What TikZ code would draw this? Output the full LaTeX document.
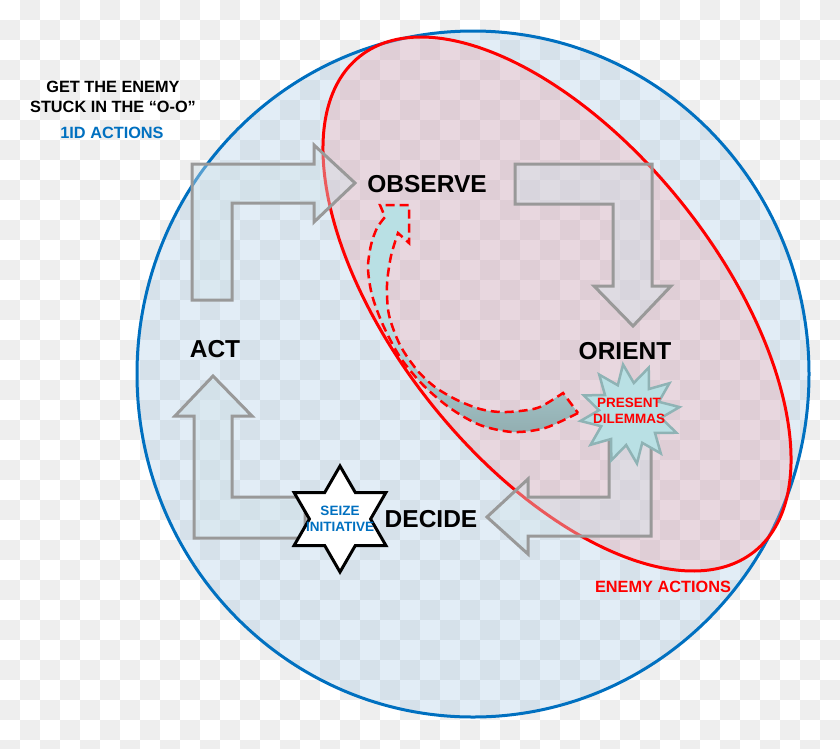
\documentclass[tikz,border=0pt]{standalone}
\usepackage{fontspec}
\setmainfont{Liberation Sans}
\usetikzlibrary{shapes.geometric}

\definecolor{oneidblue}{RGB}{0,112,192}
\definecolor{circlefill}{RGB}{143,187,223}
\definecolor{enemyfill}{RGB}{247,165,170}
\definecolor{arrowgray}{RGB}{153,153,153}
\definecolor{arrowfill}{RGB}{207,225,232}
\definecolor{checkgray}{RGB}{238,238,238}
\definecolor{teallight}{RGB}{185,224,228}
\definecolor{tealdark}{RGB}{146,174,177}
\definecolor{burstline}{RGB}{143,179,181}

\begin{document}
\begin{tikzpicture}[x=1pt,y=-1pt,
    blockarrow/.style={draw=arrowgray, line width=3pt, fill=arrowfill, fill opacity=0.4},
    phase/.style={font=\fontsize{24.5}{26}\selectfont\bfseries},
    note/.style={font=\fontsize{16.3}{20}\selectfont\bfseries, align=center, inner sep=0pt},
    small/.style={font=\fontsize{13.5}{15.5}\selectfont\bfseries, align=center, inner sep=0pt}]

    \useasboundingbox (0,0) rectangle (840,748);
    % checkered backdrop
    \begin{scope}
        \clip (0,0) rectangle (840,748);
        \fill[white] (0,0) rectangle (840,748);
        \foreach \i in {0,2,...,40}
            \foreach \j in {1,3,...,37}
                \fill[checkgray] (20*\i,20*\j) rectangle ++(20,20);
        \foreach \i in {1,3,...,41}
            \foreach \j in {0,2,...,36}
                \fill[checkgray] (20*\i,20*\j) rectangle ++(20,20);
    \end{scope}

    % own and enemy areas
    \fill[circlefill, opacity=0.25] (473,374) ellipse [x radius=336, y radius=343];
    \draw[oneidblue, line width=3pt] (473,374) ellipse [x radius=336, y radius=343];
    \fill[enemyfill, opacity=0.3, rotate around={-51.4:(557,304)}] (557,304) ellipse [x radius=316.6, y radius=160.6];
    \draw[red, line width=3pt, rotate around={-51.4:(557,304)}] (557,304) ellipse [x radius=316.6, y radius=160.6];

    % loop arrows
    \draw[blockarrow] (192,300) -- (192,164) -- (314,164) -- (314,145) -- (355,183) -- (314,222) -- (314,203) -- (232,203) -- (232,300) -- cycle;
    \draw[blockarrow] (515,164) -- (652,164) -- (652,286) -- (671,286) -- (633,326) -- (594,286) -- (613,286) -- (613,204) -- (515,204) -- cycle;
    \draw[blockarrow] (651,425) -- (651,536) -- (528,536) -- (528,554) -- (487,517) -- (528,479) -- (528,497) -- (609,497) -- (609,425) -- cycle;
    \draw[blockarrow] (213,376) -- (252,416) -- (232,416) -- (232,497) -- (305,497) -- (305,538) -- (194,538) -- (194,416) -- (175,416) -- cycle;

    % enemy pushed back to observe
    \path[draw=red, line width=2.5pt, dash pattern=on 9pt off 5pt,
          top color=teallight, bottom color=tealdark, middle color=teallight]
        (578,413)
        -- plot[smooth] coordinates {(578,413) (545,428) (513,432) (480,425) (450,408) (423,385) (400,357) (383,325) (372,295) (368,268) (371,245) (377,228) (385,217)}
        -- (380,205) -- (409,205) -- (409,243) -- (398,233)
        -- plot[smooth] coordinates {(398,233) (391,256) (387,285) (389,315) (400,345) (417,370) (435,387) (457,400) (480,409) (500,412) (520,411) (540,407) (563,393)}
        -- cycle;

    \node[star, star points=6, star point ratio=1.732, minimum size=106pt, inner sep=0pt,
          draw=black, line width=3pt, fill=white] (seize) at (340,519) {};
    \node[star, star points=12, star point ratio=1.6, minimum size=100pt, inner sep=0pt,
          draw=burstline, line width=2.5pt, fill=teallight, rotate=8] (burst) at (630,414) {};

    \node[phase] (observe) at (427,184) {OBSERVE};
    \node[phase] (orient) at (625,351) {ORIENT};
    \node[phase] (act) at (215,349) {ACT};
    \node[phase] (decide) at (431,519) {DECIDE};

    \node[note] (goal) at (113,97) {GET THE ENEMY\\STUCK IN THE “O-O”};
    \node[note, text=oneidblue] (oneid) at (112,133) {1ID ACTIONS};
    \node[note, text=red] (enemy) at (663,587) {ENEMY ACTIONS};
    \node[small, text=oneidblue] (seizetext) at (seize) {SEIZE\\INITIATIVE};
    \node[small, text=red] (dilemmas) at (629,411) {PRESENT\\DILEMMAS};
\end{tikzpicture}
\end{document}
